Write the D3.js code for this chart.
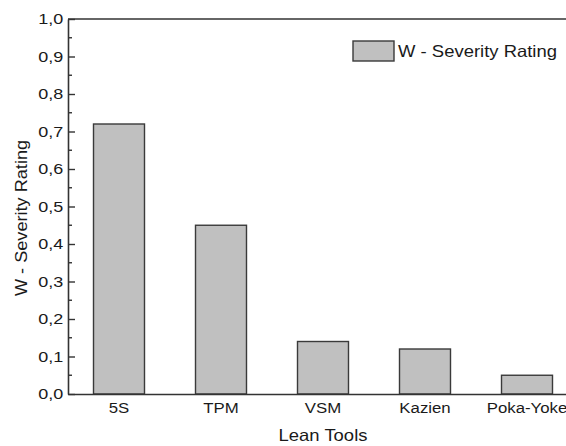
<!DOCTYPE html>
<html>
<head>
<meta charset="utf-8">
<script src="https://cdn.jsdelivr.net/npm/d3@7"></script>
<style>
  body { margin: 0; background: #fff; }
  svg { display: block; font-family: 'Liberation Sans', Arial, sans-serif; }
</style>
</head>
<body>
<div id="chart"></div>
<script>
const tools = ['5S', 'TPM', 'VSM', 'Kazien', 'Poka-Yoke']
const severity = [0.72, 0.45, 0.14, 0.12, 0.05]
const yTicks = [0, 0.1, 0.2, 0.3, 0.4, 0.5, 0.6, 0.7, 0.8, 0.9, 1.0]
const seriesName = 'W - Severity Rating'

const W = 566, H = 446
const margin = { top: 19, right: -12, bottom: 52, left: 68 }
const width = W - margin.left - margin.right
const height = H - margin.top - margin.bottom

// text in the original looks a bit wider than Arial
const stretch = 'scale(1.12,1)'

const svg = d3.select('#chart').append('svg')
  .attr('width', W).attr('height', H)

const g = svg.append('g').attr('transform', `translate(${margin.left},${margin.top})`)

const data = tools.map((t, i) => ({ tool: t, value: severity[i] }))

const x = d3.scaleBand().domain(tools).range([0, width]).paddingInner(0.5).paddingOuter(0.25)
const y = d3.scaleLinear().domain([0, 1]).range([height, 0])

const fmt = d => d3.format('.1f')(d).replace('.', ',')

// bars
g.selectAll('rect.bar')
  .data(data)
  .join('rect')
  .attr('class', 'bar')
  .attr('x', d => x(d.tool))
  .attr('y', d => y(d.value))
  .attr('width', x.bandwidth())
  .attr('height', d => y(0) - y(d.value))
  .attr('fill', '#c0c0c0')
  .attr('stroke', '#3a3a3a')
  .attr('stroke-width', 1.4)

// frame top line
g.append('line')
  .attr('x1', 0).attr('x2', width).attr('y1', 0).attr('y2', 0)
  .attr('stroke', '#333').attr('stroke-width', 1.6)

// y axis, ticks inside
const yAxis = g.append('g')
  .call(d3.axisLeft(y).tickValues(yTicks).tickSizeInner(-7).tickSizeOuter(0).tickPadding(4).tickFormat(fmt))
yAxis.select('.domain').attr('stroke', '#333').attr('stroke-width', 1.6)
yAxis.selectAll('.tick line').attr('stroke', '#333').attr('stroke-width', 1.4)
yAxis.selectAll('.tick text').attr('font-size', 15).attr('fill', '#1a1a1a').attr('transform', 'scale(1.2,1)')

// minor ticks
const minor = d3.range(0.05, 1, 0.1)
g.append('g').selectAll('line')
  .data(minor)
  .join('line')
  .attr('x1', 0).attr('x2', 4)
  .attr('y1', d => y(d)).attr('y2', d => y(d))
  .attr('stroke', '#333').attr('stroke-width', 1.4)

// x axis
const xAxis = g.append('g')
  .attr('transform', `translate(0,${height})`)
  .call(d3.axisBottom(x).tickSize(0).tickPadding(8))
xAxis.select('.domain').attr('stroke', '#333').attr('stroke-width', 1.6)
xAxis.selectAll('.tick text').attr('font-size', 15).attr('fill', '#1a1a1a').attr('transform', stretch)

// axis titles
svg.append('text')
  .attr('transform', `translate(323,441) ${stretch}`)
  .attr('text-anchor', 'middle')
  .attr('font-size', 16.5).attr('fill', '#1a1a1a')
  .text('Lean Tools')

svg.append('text')
  .attr('transform', `translate(27,218) rotate(-90) scale(1.1,1)`)
  .attr('text-anchor', 'middle')
  .attr('font-size', 16.5).attr('fill', '#1a1a1a')
  .text('W - Severity Rating')

// legend
const legend = svg.append('g').attr('transform', 'translate(353,41)')
legend.append('rect')
  .attr('width', 41).attr('height', 20)
  .attr('fill', '#c0c0c0').attr('stroke', '#3a3a3a').attr('stroke-width', 1.4)
legend.append('text')
  .attr('transform', `translate(45,16) ${stretch}`)
  .attr('font-size', 16.5).attr('fill', '#1a1a1a')
  .text(seriesName)
</script>
</body>
</html>
